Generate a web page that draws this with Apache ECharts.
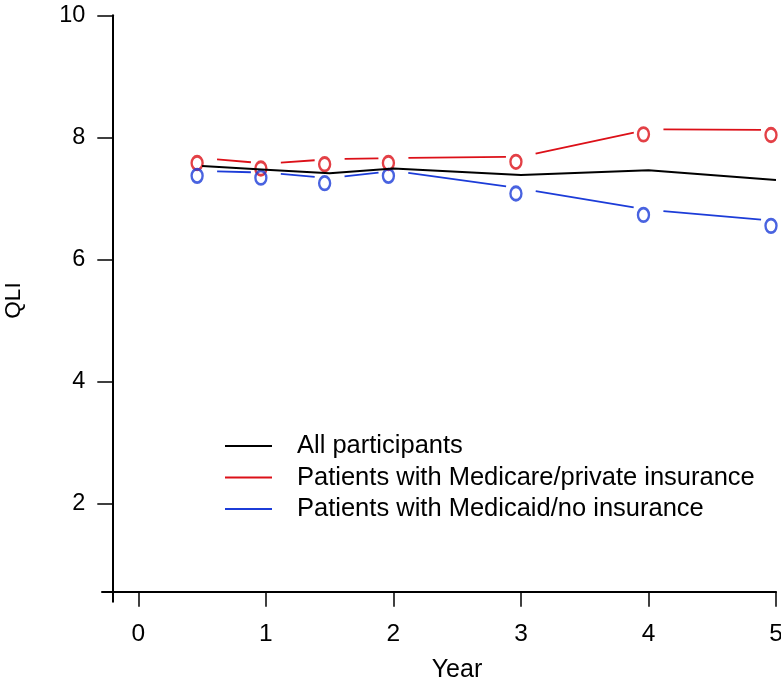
<!DOCTYPE html>
<html>
<head>
<meta charset="utf-8">
<script src="https://cdn.jsdelivr.net/npm/echarts@6/dist/echarts.min.js"></script>
<style>
html,body{margin:0;padding:0;background:#fff;}
#chart{width:781px;height:685px;}
</style>
</head>
<body>
<div id="chart"></div>
<script>
// ---- data ----
const years = [0.5, 1, 1.5, 2, 3, 4, 5];
const allParticipants = [7.53, 7.47, 7.41, 7.49, 7.38, 7.46, 7.30];
const medicarePrivate = [7.66, 7.57, 7.64, 7.66, 7.68, 8.13, 8.12];
const medicaidNone    = [7.45, 7.42, 7.33, 7.45, 7.16, 6.81, 6.63];
const xTicks = [0, 1, 2, 3, 4, 5];
const yTicks = [2, 4, 6, 8, 10];
const seriesNames = ['All participants', 'Patients with Medicare/private insurance', 'Patients with Medicaid/no insurance'];

const RED = '#dc1018';
const BLUE = '#1c3cd8';
const FONT = 'Liberation Sans';

function pairs(vals){ return years.map((x,i)=>[x, vals[i]]); }
function segments(vals){
  const out = [];
  for (let i = 0; i < years.length - 1; i++) out.push([years[i], vals[i], years[i+1], vals[i+1]]);
  return out;
}
function gappedLine(color){
  return function(params, api){
    const p1 = api.coord([api.value(0), api.value(1)]);
    const p2 = api.coord([api.value(2), api.value(3)]);
    const dx = p2[0]-p1[0], dy = p2[1]-p1[1];
    const L = Math.sqrt(dx*dx+dy*dy);
    const g = 15;
    const ux = dx/L, uy = dy/L;
    return {
      type: 'line',
      shape: {x1: p1[0]+ux*g, y1: p1[1]+uy*g, x2: p2[0]-ux*g, y2: p2[1]-uy*g},
      style: {stroke: color, lineWidth: 1.8}
    };
  };
}
const lineIcon = 'path://M0,0H47V2H0Z';

const chart = echarts.init(document.getElementById('chart'), null, {renderer:'canvas'});
chart.setOption({
  animation: false,
  backgroundColor: '#fff',
  textStyle: {fontFamily: FONT},
  grid: {left: 102, right: 5, top: 15.3, bottom: 83.3, containLabel: false, outerBoundsMode: 'none'},
  legend: {
    orient: 'vertical',
    left: 225,
    top: 433,
    padding: 0,
    itemWidth: 47,
    itemHeight: 14,
    itemGap: 5.5,
    textStyle: {fontFamily: FONT, fontSize: 25.5, color: '#000', lineHeight: 25.5, padding: [0,0,0,20]},
    data: seriesNames.map(n => ({name: n, icon: lineIcon}))
  },
  xAxis: {
    type: 'value',
    min: -0.285,
    max: 5,
    offset: -10,
    name: 'Year',
    nameLocation: 'middle',
    nameGap: 66,
    nameTextStyle: {fontFamily: FONT, fontSize: 25, color: '#000', padding: [0,0,0,36]},
    axisLine: {show: true, onZero: false, lineStyle: {color: '#000', width: 2}},
    axisTick: {show: true, length: 15, lineStyle: {color: '#000', width: 1.5}, customValues: xTicks},
    axisLabel: {fontFamily: FONT, fontSize: 24.5, color: '#000', margin: 30, customValues: xTicks},
    splitLine: {show: false}
  },
  yAxis: {
    type: 'value',
    min: 0.387,
    max: 10,
    offset: -10.3,
    name: 'QLI',
    nameLocation: 'middle',
    nameGap: 87,
    nameTextStyle: {fontFamily: FONT, fontSize: 22.5, color: '#000', padding: [0,0,0,16]},
    axisLine: {show: true, onZero: false, lineStyle: {color: '#000', width: 2}},
    axisTick: {show: true, length: 15, lineStyle: {color: '#000', width: 1.5}, customValues: yTicks},
    axisLabel: {fontFamily: FONT, fontSize: 23.5, color: '#000', margin: 27, customValues: yTicks},
    splitLine: {show: false}
  },
  series: [
    {
      name: seriesNames[1],
      type: 'custom',
      itemStyle: {color: RED},
      encode: {x: [0, 2], y: [1, 3]},
      data: segments(medicarePrivate),
      renderItem: gappedLine(RED),
      z: 2
    },
    {
      name: seriesNames[2],
      type: 'custom',
      itemStyle: {color: BLUE},
      encode: {x: [0, 2], y: [1, 3]},
      data: segments(medicaidNone),
      renderItem: gappedLine(BLUE),
      z: 2
    },
    {
      name: 'medicare-points',
      type: 'scatter',
      data: pairs(medicarePrivate),
      symbol: 'circle',
      symbolSize: [11, 13.5],
      symbolOffset: [-5, 5],
      itemStyle: {color: 'rgba(0,0,0,0)', borderColor: RED, borderWidth: 2.6},
      z: 3
    },
    {
      name: 'medicaid-points',
      type: 'scatter',
      data: pairs(medicaidNone),
      symbol: 'circle',
      symbolSize: [11, 13.5],
      symbolOffset: [-5, 5],
      itemStyle: {color: 'rgba(0,0,0,0)', borderColor: BLUE, borderWidth: 2.6},
      z: 3
    },
    {
      name: seriesNames[0],
      type: 'line',
      data: pairs(allParticipants),
      showSymbol: false,
      symbol: 'none',
      itemStyle: {color: '#000'},
      lineStyle: {color: '#000', width: 2},
      z: 4
    }
  ]
});
</script>
</body>
</html>
